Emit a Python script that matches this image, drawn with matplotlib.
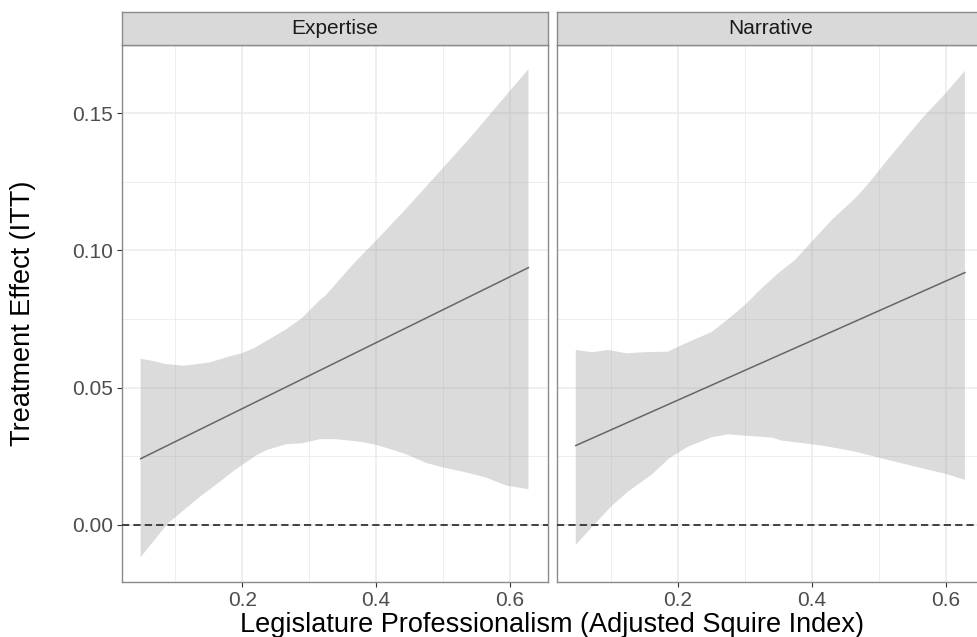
import matplotlib.pyplot as plt
from matplotlib.ticker import MultipleLocator

plt.rcParams['font.family'] = ['Liberation Sans', 'DejaVu Sans']

# Facet labels
panels = ['Expertise', 'Narrative']

# Fitted line endpoints (x, effect)
exp_line_x = [0.048, 0.628]
exp_line_y = [0.0241, 0.0937]
nar_line_x = [0.047, 0.629]
nar_line_y = [0.0289, 0.0919]

# Confidence band, Expertise
exp_up_x = [0.048, 0.067, 0.085, 0.112, 0.124, 0.152, 0.177, 0.199, 0.217, 0.236,
            0.266, 0.289, 0.316, 0.324, 0.366, 0.401, 0.441, 0.486, 0.540, 0.595, 0.628]
exp_up_y = [0.0605, 0.0597, 0.0586, 0.0580, 0.0583, 0.0592, 0.0611, 0.0625, 0.0643, 0.0670,
            0.0713, 0.0753, 0.0819, 0.0834, 0.0950, 0.1038, 0.1141, 0.1262, 0.1408, 0.1566, 0.1660]
exp_lo_x = [0.048, 0.089, 0.137, 0.167, 0.189, 0.222, 0.237, 0.266, 0.289, 0.316,
            0.341, 0.376, 0.401, 0.441, 0.476, 0.501, 0.540, 0.565, 0.595, 0.628]
exp_lo_y = [-0.0118, 0.0006, 0.0103, 0.0158, 0.0200, 0.0255, 0.0273, 0.0294, 0.0297, 0.0312,
            0.0312, 0.0303, 0.0291, 0.0261, 0.0225, 0.0209, 0.0188, 0.0172, 0.0143, 0.0130]

# Confidence band, Narrative
nar_up_x = [0.047, 0.072, 0.095, 0.123, 0.150, 0.185, 0.200, 0.225, 0.250, 0.275,
            0.300, 0.325, 0.350, 0.375, 0.400, 0.430, 0.465, 0.485, 0.515, 0.565, 0.600, 0.629]
nar_up_y = [0.0637, 0.0629, 0.0637, 0.0625, 0.0629, 0.0631, 0.0649, 0.0676, 0.0702, 0.0750,
            0.0801, 0.0862, 0.0917, 0.0965, 0.1032, 0.1111, 0.1190, 0.1244, 0.1335, 0.1481, 0.1572, 0.1654]
nar_lo_x = [0.047, 0.072, 0.100, 0.125, 0.160, 0.187, 0.215, 0.250, 0.275, 0.300,
            0.340, 0.355, 0.415, 0.465, 0.500, 0.565, 0.600, 0.629]
nar_lo_y = [-0.0073, -0.0006, 0.0067, 0.0121, 0.0182, 0.0243, 0.0285, 0.0319, 0.0330, 0.0325,
            0.0318, 0.0307, 0.0289, 0.0267, 0.0245, 0.0206, 0.0186, 0.0164]

x_ticks = [0.2, 0.4, 0.6]
y_ticks = [0.0, 0.05, 0.10, 0.15]
y_labels = ['0.00', '0.05', '0.10', '0.15']

W, H = 978, 637
fig = plt.figure(figsize=(W / 100, H / 100), dpi=100)

border = '#8a8a8a'
grid_col = '#EBEBEB'
band_col = '#999999'

panel_w = 426 / W
panel_h = 536.7 / H
panel_b = (H - 581.7) / H
strip_h = 33.3 / H
lefts = [121.7 / W, 557.5 / W]

data = [
    (exp_line_x, exp_line_y, exp_up_x, exp_up_y, exp_lo_x, exp_lo_y),
    (nar_line_x, nar_line_y, nar_up_x, nar_up_y, nar_lo_x, nar_lo_y),
]

for i, (name, left) in enumerate(zip(panels, lefts)):
    lx, ly, ux, uy, bx, by = data[i]
    ax = fig.add_axes([left, panel_b, panel_w, panel_h])

    # band as one closed polygon: upper edge then lower edge reversed
    poly_x = ux + bx[::-1]
    poly_y = uy + by[::-1]
    ax.fill(poly_x, poly_y, color=band_col, alpha=0.35, lw=0, zorder=2)
    ax.axhline(0, color='#333333', lw=1.3, ls=(0, (4, 2.3)), zorder=3)
    ax.plot(lx, ly, color='#666666', lw=1.1, zorder=4)

    ax.set_xlim(0.0197, 0.6568)
    ax.set_ylim(-0.0207, 0.1748)
    ax.set_xticks(x_ticks)
    ax.set_xticklabels([f'{t:.1f}' for t in x_ticks])
    ax.xaxis.set_minor_locator(MultipleLocator(0.1))
    ax.yaxis.set_minor_locator(MultipleLocator(0.025))
    ax.set_yticks(y_ticks)
    if i == 0:
        ax.set_yticklabels(y_labels)
    else:
        ax.set_yticklabels([])

    ax.grid(which='major', color=grid_col, lw=1.1, zorder=0)
    ax.grid(which='minor', color=grid_col, lw=0.6, zorder=0)
    ax.set_axisbelow(True)
    ax.tick_params(which='major', labelsize=15, labelcolor='#4D4D4D',
                   color='#333333', length=3.5, width=0.8, pad=3)
    ax.tick_params(which='minor', length=0)
    if i == 1:
        ax.tick_params(axis='y', length=0)
    for sp in ax.spines.values():
        sp.set_color(border)
        sp.set_linewidth(1.0)

    # facet strip
    sax = fig.add_axes([left, panel_b + panel_h, panel_w, strip_h])
    sax.set_facecolor('#D9D9D9')
    sax.set_xticks([])
    sax.set_yticks([])
    for sp in sax.spines.values():
        sp.set_color(border)
        sp.set_linewidth(1.0)
    sax.text(0.5, 0.5, name, transform=sax.transAxes, ha='center', va='center',
             fontsize=15, color='#1A1A1A')

fig.text(552 / W, 5 / H, 'Legislature Professionalism (Adjusted Squire Index)',
         ha='center', va='baseline', fontsize=19.5, color='black')
fig.text(23 / W, (H - 313) / H, 'Treatment Effect (ITT)', rotation=90,
         ha='center', va='center', fontsize=19.5, color='black')

fig.savefig('out.png', dpi=100)
